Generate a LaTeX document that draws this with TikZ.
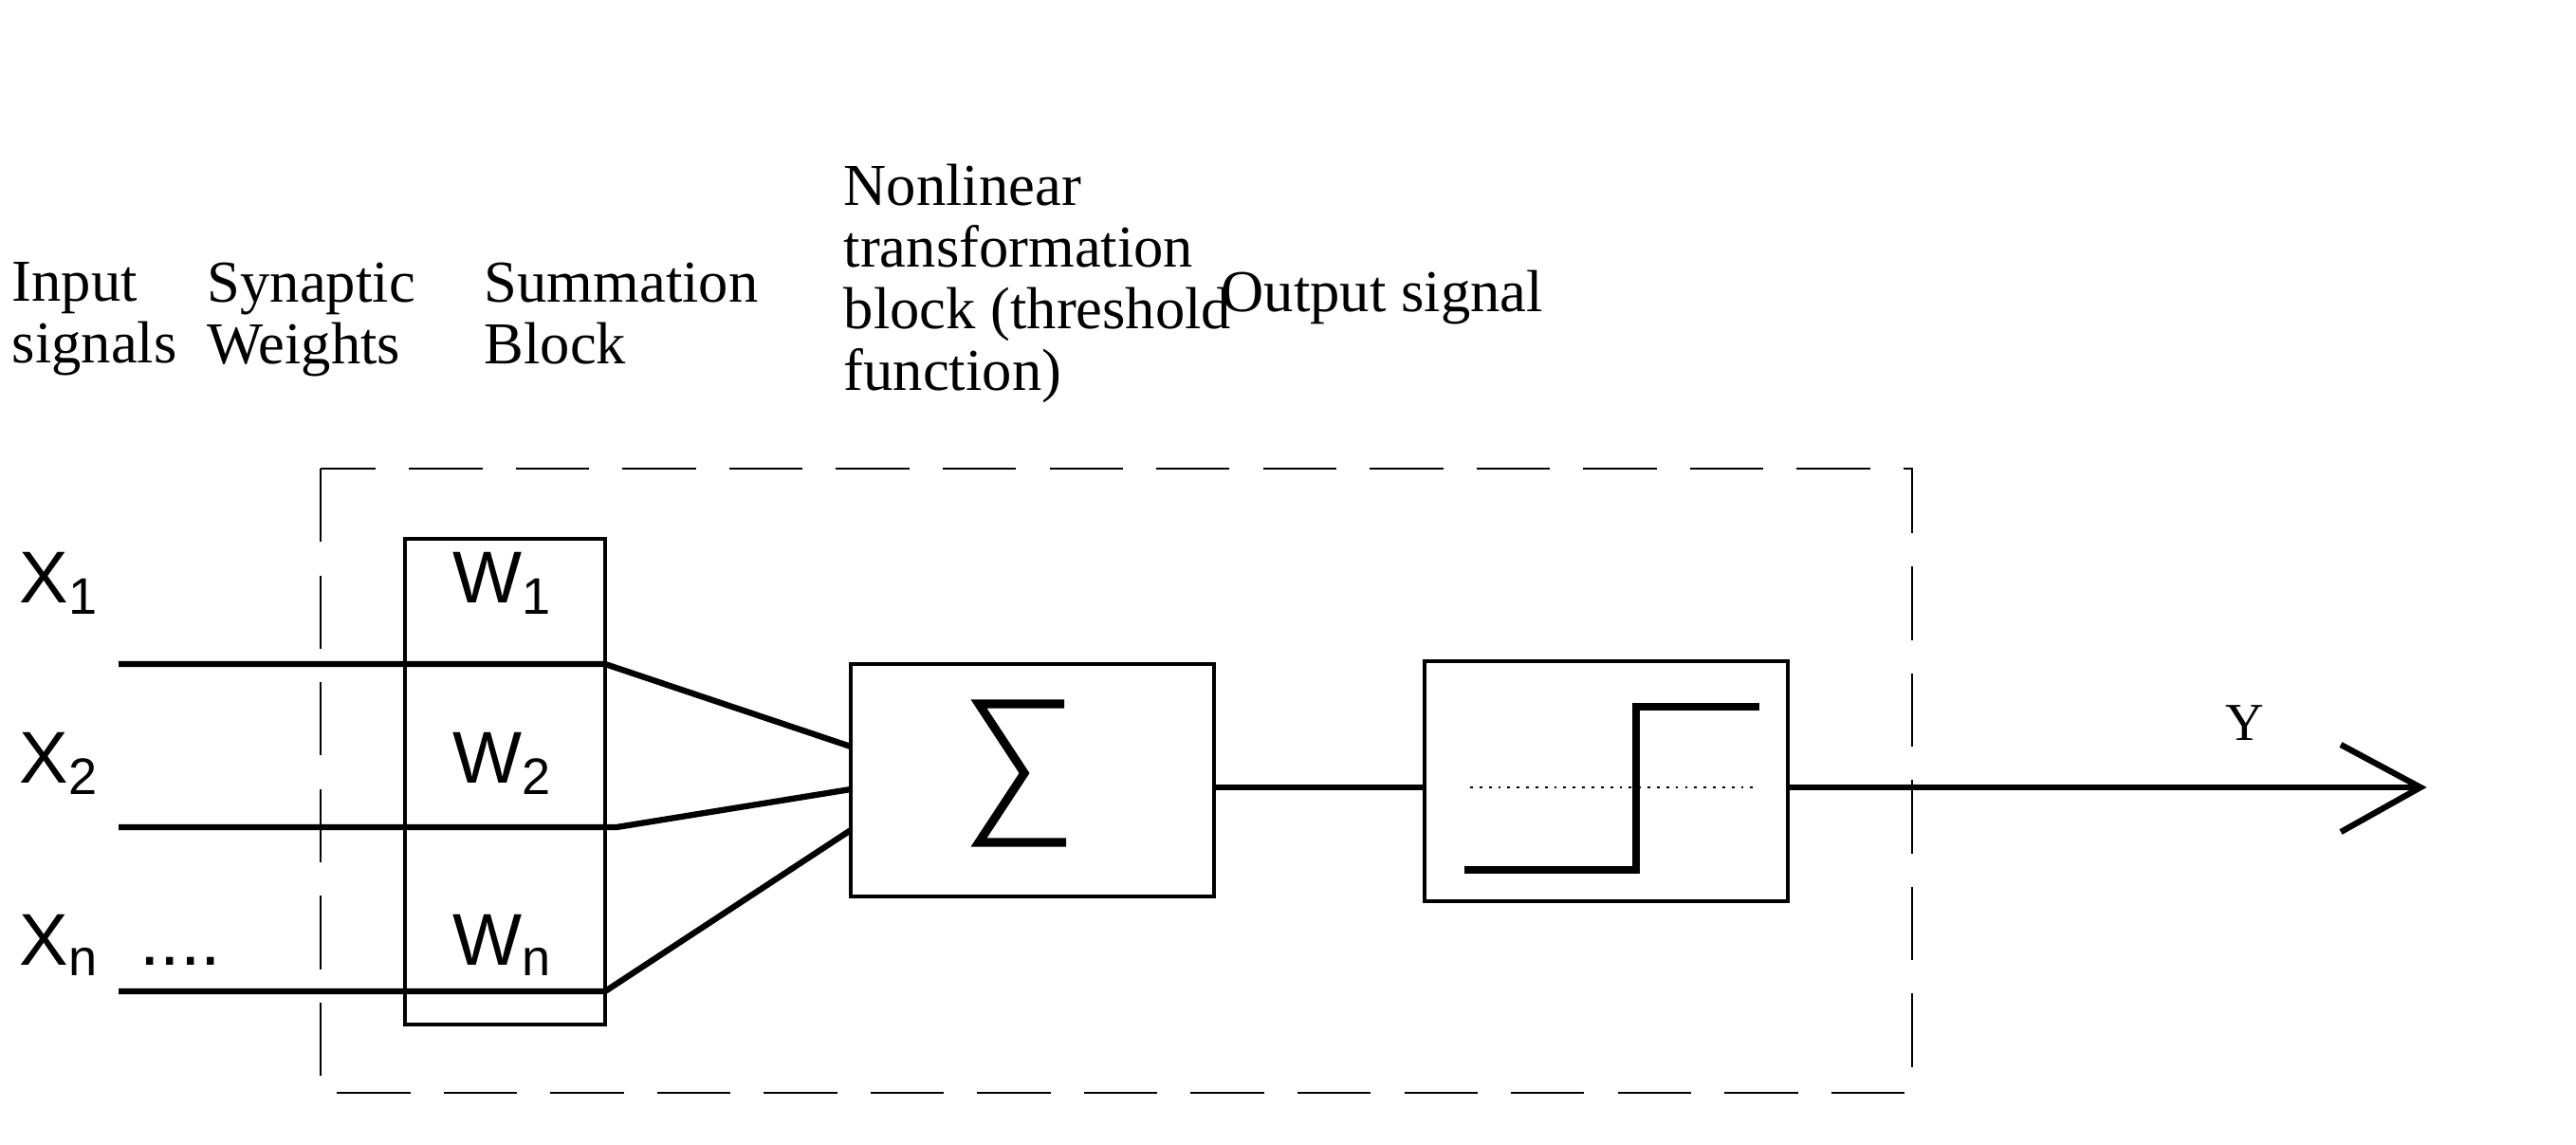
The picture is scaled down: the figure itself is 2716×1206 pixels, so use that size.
\documentclass[tikz,border=0pt]{standalone}
\usepackage{fontspec}
\setmainfont{Liberation Serif}
\newfontfamily\sansf{Liberation Sans}
\begin{document}
\begin{tikzpicture}[x=0.01cm,y=-0.01cm,
  lab/.style={anchor=north west,inner sep=0,align=left,font=\fontsize{17.8}{18.5}\selectfont},
  var/.style={inner sep=0,font=\sansf\fontsize{22}{22}\selectfont},
  box/.style={draw,line width=1.2pt},
  wire/.style={line width=1.8pt}]
\useasboundingbox (0,0) rectangle (2716,1206);
% labels
\node[lab] (tin) at (12,276) {Input\\signals};
\node[lab] (tsw) at (218,276) {Synaptic\\Weights};
\node[lab] (tsb) at (510,276) {Summation\\Block};
\node[lab] (tnl) at (889,172) {Nonlinear\\transformation\\block (threshold\\function)};
\node[lab] (tos) at (1287,284) {Output signal};
% dashed frame
\draw[dash pattern=on 22pt off 10pt,line width=0.6pt] (338,494) rectangle (2016,1152);
% weights box
\draw[box] (427,568) rectangle (638,1080);
\node[var] (w1) at (530,615) {W\textsubscript{1}};
\node[var] (w2) at (530,805) {W\textsubscript{2}};
\node[var] (wn) at (530,996) {W\textsubscript{n}};
\node[var,anchor=west] (x1) at (20,615) {X\textsubscript{1}};
\node[var,anchor=west] (x2) at (20,805) {X\textsubscript{2}};
\node[var,anchor=west] (xn) at (20,996) {X\textsubscript{n}\ \ ....};
% summation
\draw[box] (897,700) rectangle (1280,945);
\coordinate (s1) at (897,787);
\coordinate (s2) at (897,832);
\coordinate (s3) at (897,875);
\coordinate (a1) at (125,700); \coordinate (b1) at (638,700);
\coordinate (a2) at (125,872); \coordinate (b2) at (650,872);
\coordinate (a3) at (125,1045); \coordinate (b3) at (638,1045);
\draw[wire] (a1) -- (b1) -- (s1);
\draw[wire] (a2) -- (b2) -- (s2);
\draw[wire] (a3) -- (b3) -- (s3);
\draw[line width=2.6pt] (1122,742) -- (1032,742) -- (1080,815) -- (1032,888) -- (1124,888);
% threshold block
\draw[box] (1502,697) rectangle (1885,950);
\coordinate (sr) at (1280,830); \coordinate (tl) at (1502,830);
\draw[wire] (sr) -- (tl);
\draw[line width=0.8pt,dotted] (1550,830) -- (1852,830);
\draw[line width=2.4pt] (1544,917) -- (1725,917) -- (1725,745) -- (1855,745);
\coordinate (tr) at (1885,830); \coordinate (yend) at (2552,830);
\draw[wire] (tr) -- (yend);
\draw[line width=1.8pt] (2468,785) -- (2552,830) -- (2468,877);
\node[inner sep=0,font=\fontsize{16}{16}\selectfont] (ylab) at (2367,762) {Y};
\end{tikzpicture}
\end{document}
